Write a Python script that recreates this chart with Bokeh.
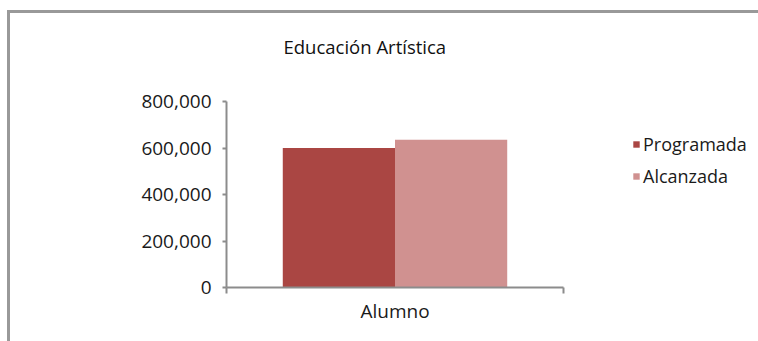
from bokeh.plotting import figure
from bokeh.models import (Range1d, ColumnDataSource, Legend, LegendItem,
                          NumeralTickFormatter, FixedTicker, Title)
from bokeh.transform import dodge
from bokeh.embed import file_html
from bokeh.resources import INLINE

title_text = "Educación Artística"
categories = ["Alumno"]
series_names = ["Programada", "Alcanzada"]
programada = [600000]
alcanzada = [635000]
y_ticks = [0, 200000, 400000, 600000, 800000]
colors = ["#AA4643", "#D09190"]

FONT = "Open Sans"

# numeric positions of the categories (centre of each unit-wide slot)
cat_pos = [i + 0.5 for i in range(len(categories))]
src = ColumnDataSource(data=dict(pos=cat_pos, programada=programada, alcanzada=alcanzada))

n = len(categories)
p = figure(width=758, height=341, x_range=Range1d(0, n * 532 / 337), y_range=Range1d(0, 800000),
           output_backend="svg", toolbar_location=None,
           min_border_left=226, min_border_right=0, min_border_top=101, min_border_bottom=54)

# spacer between the frame and the title
spacer = Title(text=" ", text_font_size="1px", standoff=40)
p.add_layout(spacer, "above")

p.title.text = title_text
p.title.align = "left"
p.title.offset = 57
p.title.standoff = 0
p.title.text_font = FONT
p.title.text_font_size = "18.5px"
p.title.text_font_style = "normal"
p.title.text_color = "#111111"

r1 = p.vbar(x=dodge("pos", -0.1665), top="programada", width=0.333, source=src,
            fill_color=colors[0], line_color=None)
r2 = p.vbar(x=dodge("pos", 0.1665), top="alcanzada", width=0.333, source=src,
            fill_color=colors[1], line_color=None)

p.grid.visible = False
p.outline_line_color = None
p.background_fill_color = "white"
p.border_fill_color = None
p.styles = {
    "background": "linear-gradient(#999999, #999999) no-repeat 7px 10px / 751px 3px, "
                  "linear-gradient(#999999, #999999) no-repeat 7px 10px / 3px 331px, white"
}

axis_col = "#8c8c8c"
ya = p.yaxis[0]
ya.ticker = FixedTicker(ticks=y_ticks)
ya.formatter = NumeralTickFormatter(format="0,0")
ya.axis_line_color = axis_col
ya.axis_line_width = 2
ya.major_tick_line_color = axis_col
ya.major_tick_line_width = 2
ya.major_tick_out = 4
ya.major_tick_in = 0
ya.minor_tick_line_color = None
ya.major_label_text_font = FONT
ya.major_label_text_font_size = "19px"
ya.major_label_text_color = "#1a1a1a"
ya.major_label_standoff = 11

xa = p.xaxis[0]
xa.bounds = (0, n)
xa.ticker = FixedTicker(ticks=cat_pos, minor_ticks=list(range(n + 1)))
xa.major_label_overrides = {pos: c for pos, c in zip(cat_pos, categories)}
xa.axis_line_color = axis_col
xa.axis_line_width = 2
xa.major_tick_line_color = None
xa.major_tick_out = 0
xa.major_tick_in = 0
xa.minor_tick_line_color = axis_col
xa.minor_tick_line_width = 2
xa.minor_tick_out = 6
xa.minor_tick_in = 0
xa.major_label_text_font = FONT
xa.major_label_text_font_size = "19px"
xa.major_label_text_color = "#1a1a1a"
xa.major_label_standoff = 4

legend = Legend(items=[LegendItem(label=series_names[0], renderers=[r1]),
                       LegendItem(label=series_names[1], renderers=[r2])],
                location=(406, 99), orientation="vertical")
legend.glyph_width = 8
legend.glyph_height = 8
legend.label_standoff = 3
legend.label_height = 20
legend.spacing = 8
legend.padding = 0
legend.margin = 0
legend.border_line_color = None
legend.background_fill_alpha = 0
legend.label_text_font = FONT
legend.label_text_font_size = "18px"
legend.label_text_color = "#1a1a1a"
p.add_layout(legend, "center")

open("out.html", "w").write(file_html(p, INLINE))
